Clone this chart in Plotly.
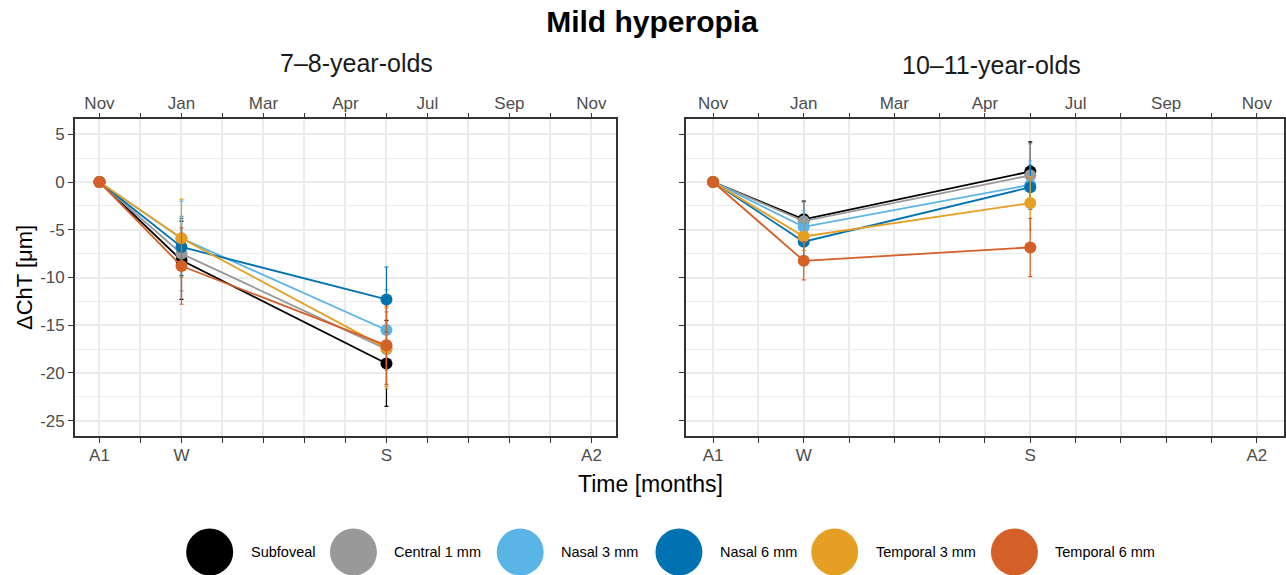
import plotly.graph_objects as go

# Choroidal thickness change (ΔChT, µm) by macular region, mild hyperopes
regions = ["Subfoveal", "Central 1 mm", "Nasal 3 mm", "Nasal 6 mm", "Temporal 3 mm", "Temporal 6 mm"]
colors = ["#000000", "#999999", "#5AB4E6", "#0072B2", "#E5A024", "#D45F27"]

# Visits expressed as months after the November baseline
visit_month = [0, 2, 7]
visit_ticks = [0, 2, 7, 12]
visit_labels = ["A1", "W", "S", "A2"]
month_ticks = [0, 2, 4, 6, 8, 10, 12]
month_labels = ["Nov", "Jan", "Mar", "Apr", "Jul", "Sep", "Nov"]

# 7–8-year-olds: mean and SD per region at A1, W, S
young_mean = [
    [0, -8.2, -19.0],
    [0, -7.5, -17.5],
    [0, -5.9, -15.5],
    [0, -6.8, -12.3],
    [0, -5.9, -17.4],
    [0, -8.8, -17.1],
]
young_sd = [
    [0, 4.1, 4.5],
    [0, 3.9, 3.9],
    [0, 3.9, 4.2],
    [0, 3.0, 3.4],
    [0, 4.1, 4.2],
    [0, 4.0, 4.1],
]

# 10–11-year-olds
older_mean = [
    [0, -3.9, 1.1],
    [0, -4.1, 0.7],
    [0, -4.7, -0.3],
    [0, -6.25, -0.55],
    [0, -5.7, -2.2],
    [0, -8.25, -6.85],
]
older_sd = [
    [0, 1.9, 3.1],
    [0, 2.0, 3.3],
    [0, 1.7, 2.5],
    [0, 2.0, 2.3],
    [0, 1.5, 2.8],
    [0, 2.0, 3.05],
]

W, H = 1286, 575
FONT = "Liberation Sans"
TICK_COL = "#4d4d4d"
FRAME_COL = "#333333"
GRID_COL = "#ebebeb"

fig = go.Figure()

for xa, means, sds in (("x", young_mean, young_sd), ("x2", older_mean, older_sd)):
    ya = "y" if xa == "x" else "y2"
    for name, col, m, s in zip(regions, colors, means, sds):
        fig.add_trace(go.Scatter(
            x=visit_month, y=m, name=name, mode="lines+markers",
            xaxis=xa, yaxis=ya, showlegend=False,
            line=dict(color=col, width=1.8),
            marker=dict(color=col, size=12, line=dict(width=0)),
            error_y=dict(type="data", array=s, color=col, thickness=1.2, width=2),
        ))

# empty traces so the top (calendar month) axes are drawn
fig.add_trace(go.Scatter(x=[None], y=[None], xaxis="x3", yaxis="y", showlegend=False, hoverinfo="skip"))
fig.add_trace(go.Scatter(x=[None], y=[None], xaxis="x4", yaxis="y2", showlegend=False, hoverinfo="skip"))

# legend keys drawn as large dots on a hidden strip at the bottom
legend_x = [210, 354, 521, 680, 836, 1016]
legend_y = 23
for name, col, lx in zip(regions, colors, legend_x):
    fig.add_trace(go.Scatter(
        x=[lx], y=[legend_y], mode="markers", xaxis="x5", yaxis="y3",
        marker=dict(color=col, size=47, line=dict(width=0)),
        showlegend=False, hoverinfo="skip",
    ))
    fig.add_annotation(x=lx + 39, y=legend_y, xref="x5", yref="y3", text=name,
                       showarrow=False, xanchor="left", yanchor="middle",
                       font=dict(family=FONT, size=14.5, color="#000000"))

xrange = [-0.6, 12.6]
all_months = list(range(13))
bottom_text = [visit_labels[visit_ticks.index(v)] if v in visit_ticks else "" for v in all_months]
top_text = [month_labels[month_ticks.index(v)] if v in month_ticks else "" for v in all_months]

dom_left = [75 / W, 617 / W]
dom_right = [687 / W, 1.0]
dom_y = [1 - 436 / H, 1 - 119 / H]

common_x = dict(
    range=xrange, tickmode="array", tickvals=all_months, ticks="outside", ticklen=5,
    tickcolor=FRAME_COL, tickwidth=1.2, zeroline=False,
    tickfont=dict(family=FONT, size=17, color=TICK_COL),
)
bottom_x = dict(common_x, ticktext=bottom_text, showgrid=True, gridcolor=GRID_COL, gridwidth=1.6,
                showline=True, linecolor=FRAME_COL, linewidth=1.5, mirror=True,
                ticklabelstandoff=-2)
top_x = dict(common_x, ticktext=top_text, side="top", showgrid=False, showline=False,
             ticklabelstandoff=-3)

common_y = dict(
    range=[-26.6, 6.6], tickmode="array", tickvals=[-25, -20, -15, -10, -5, 0, 5],
    ticktext=["-25", "-20", "-15", "-10", "-5", "0", "5"],
    ticks="outside", ticklen=5, tickcolor=FRAME_COL, tickwidth=1.2, zeroline=False,
    showgrid=True, gridcolor=GRID_COL, gridwidth=1.8,
    minor=dict(tickvals=[-22.5, -17.5, -12.5, -7.5, -2.5, 2.5], showgrid=True,
               gridcolor=GRID_COL, gridwidth=1, ticks=""),
    showline=True, linecolor=FRAME_COL, linewidth=1.5, mirror=True,
    tickfont=dict(family=FONT, size=17, color=TICK_COL), domain=dom_y,
)

fig.update_layout(
    width=W, height=H, margin=dict(l=0, r=0, t=0, b=0),
    paper_bgcolor="white", plot_bgcolor="white",
    font=dict(family=FONT),
    xaxis=dict(bottom_x, domain=dom_left, anchor="y"),
    xaxis2=dict(bottom_x, domain=dom_right, anchor="y2"),
    xaxis3=dict(top_x, domain=dom_left, anchor="y", overlaying="x"),
    xaxis4=dict(top_x, domain=dom_right, anchor="y2", overlaying="x2"),
    xaxis5=dict(domain=[0, 1], range=[0, W], visible=False, anchor="y3", fixedrange=True),
    yaxis=dict(common_y, anchor="x"),
    yaxis2=dict(common_y, anchor="x2", showticklabels=False),
    yaxis3=dict(domain=[0, 115 / H], range=[0, 115], visible=False, anchor="x5", fixedrange=True),
    title=dict(text="<b>Mild hyperopia</b>", x=652 / W, xanchor="center",
               y=1 - 21 / H, yanchor="middle", yref="container",
               font=dict(family=FONT, size=30, color="#000000")),
    showlegend=False,
)

fig.add_annotation(x=357 / W, y=1 - 63 / H, xref="paper", yref="paper", text="7–8-year-olds",
                   showarrow=False, xanchor="center", yanchor="middle",
                   font=dict(family=FONT, size=25, color="#1a1a1a"))
fig.add_annotation(x=993 / W, y=1 - 65 / H, xref="paper", yref="paper", text="10–11-year-olds",
                   showarrow=False, xanchor="center", yanchor="middle",
                   font=dict(family=FONT, size=25, color="#1a1a1a"))
fig.add_annotation(x=652 / W, y=1 - 484 / H, xref="paper", yref="paper", text="Time [months]",
                   showarrow=False, xanchor="center", yanchor="middle",
                   font=dict(family=FONT, size=23, color="#000000"))
fig.add_annotation(x=24 / W, y=1 - 277 / H, xref="paper", yref="paper", text="ΔChT [μm]",
                   showarrow=False, xanchor="center", yanchor="middle", textangle=-90,
                   font=dict(family=FONT, size=22, color="#000000"))

fig.write_html("out.html")
